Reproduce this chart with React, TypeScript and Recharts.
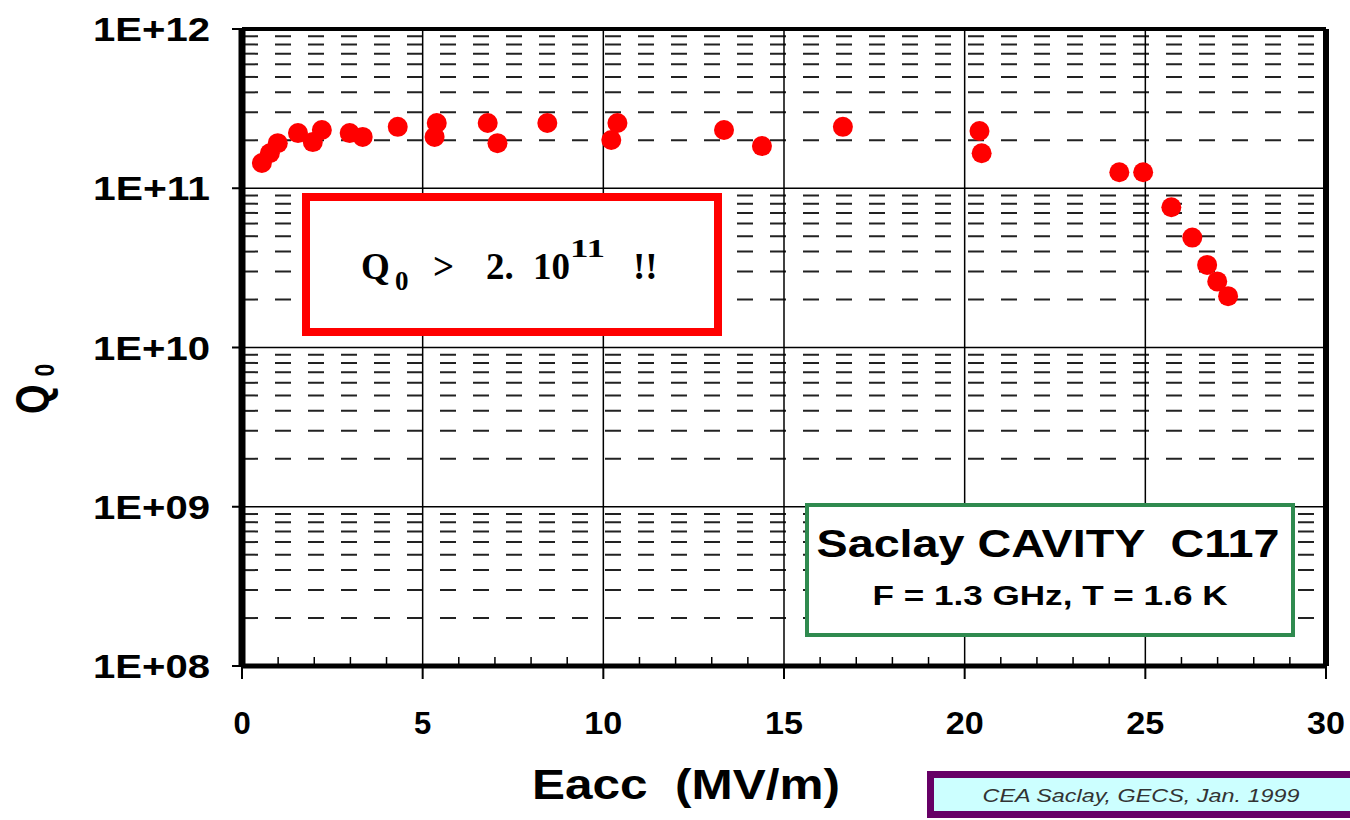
import React from 'react';
import { ScatterChart, Scatter, XAxis, YAxis, CartesianGrid, ReferenceLine } from 'recharts';

// Data
const eacc = [0.55, 0.77, 0.99, 1.55, 1.96, 2.21, 2.98, 3.34, 4.31, 5.33, 5.39, 6.8, 7.07, 8.45, 10.22, 10.39, 13.34, 14.39, 16.63, 20.41, 20.47, 24.28, 24.94, 25.72, 26.3, 26.71, 26.99, 27.29];
const q0 = [1.44e11, 1.66e11, 1.92e11, 2.22e11, 1.95e11, 2.32e11, 2.22e11, 2.1e11, 2.43e11, 2.1e11, 2.57e11, 2.57e11, 1.92e11, 2.57e11, 2.01e11, 2.57e11, 2.32e11, 1.84e11, 2.43e11, 2.29e11, 1.66e11, 1.26e11, 1.26e11, 7.6e10, 4.9e10, 3.3e10, 2.6e10, 2.1e10];

const xTicks = Array.from({ length: 31 }, (_, i) => i);
const xMajor = [5, 10, 15, 20, 25];
const yDecades = [1e8, 1e9, 1e10, 1e11, 1e12];
const yTickLabels = ['1E+08', '1E+09', '1E+10', '1E+11', '1E+12'];
const minorMultipliers = [2, 3, 4, 5, 6, 7, 8, 9];
const yMinor: number[] = [];
[1e8, 1e9, 1e10, 1e11].forEach((d) => minorMultipliers.forEach((m) => yMinor.push(m * d)));

const points = eacc.map((x, i) => ({ x, y: q0[i] }));

const SANS = '"Liberation Sans", Arial, sans-serif';
const SERIF = '"Liberation Serif", "Times New Roman", serif';

const XTick = (props: any) => {
  const { x, y, payload } = props;
  const v = payload.value;
  if (v % 5 === 0) {
    const label = String(v);
    return (
      <g>
        <line x1={x} y1={y} x2={x} y2={y + 13} stroke="#000" strokeWidth={2} />
        <text x={x} y={y + 68} textAnchor="middle" fontFamily={SANS} fontWeight="bold" fontSize={31} fill="#000"
          {...(label.length > 1 ? { textLength: 38, lengthAdjust: 'spacingAndGlyphs' } : {})}>
          {label}
        </text>
      </g>
    );
  }
  return <line x1={x} y1={y - 9} x2={x} y2={y} stroke="#000" strokeWidth={1.5} />;
};

const YTick = (props: any) => {
  const { x, y, payload } = props;
  const idx = yDecades.indexOf(payload.value);
  const label = idx >= 0 ? yTickLabels[idx] : '';
  return (
    <g>
      <line x1={x - 10} y1={y} x2={x} y2={y} stroke="#000" strokeWidth={2} />
      <text x={x - 32} y={y} dy="0.36em" textAnchor="end" fontFamily={SANS} fontWeight="bold" fontSize={34} fill="#000"
        textLength={117} lengthAdjust="spacingAndGlyphs">
        {label}
      </text>
    </g>
  );
};

const Dot = (props: any) => {
  const { cx, cy } = props;
  if (cx == null || cy == null) return null;
  return <circle cx={cx} cy={cy} r={10} fill="#ff0000" />;
};

export default function App() {
  return (
    <div style={{ position: 'absolute', left: 0, top: 0, width: 1350, height: 820, background: '#fff', overflow: 'hidden' }}>
      <ScatterChart width={1350} height={820} margin={{ top: 29, right: 24, bottom: 94, left: 0 }}>
        <CartesianGrid horizontalValues={yMinor} vertical={false} stroke="#222" strokeWidth={2} strokeDasharray="16 17" />
        <CartesianGrid horizontalValues={yDecades} verticalValues={xMajor} stroke="#000" strokeWidth={1.5} />
        <XAxis type="number" dataKey="x" domain={[0, 30]} ticks={xTicks} interval={0} allowDataOverflow
          tick={<XTick />} tickLine={false} tickSize={0} tickMargin={0} height={60}
          axisLine={{ stroke: '#000', strokeWidth: 5 }} />
        <YAxis type="number" dataKey="y" scale="log" domain={[1e8, 1e12]} ticks={yDecades} interval={0} allowDataOverflow
          tick={<YTick />} tickLine={false} tickSize={0} tickMargin={0} width={242}
          axisLine={{ stroke: '#000', strokeWidth: 7 }} />
        <ReferenceLine y={1e12} stroke="#000" strokeWidth={4} />
        <ReferenceLine x={30} stroke="#000" strokeWidth={6} />
        <Scatter data={points} shape={<Dot />} fill="#ff0000" isAnimationActive={false} />
      </ScatterChart>
      <svg width={1350} height={820} style={{ position: 'absolute', left: 0, top: 0, pointerEvents: 'none' }}>
        {/* Y axis title */}
        <g transform="translate(48,414) scale(1.2,1) rotate(-90)">
          <text x={0} y={0} fontFamily={SANS} fontWeight="bold" fontSize={38} fill="#000">
            Q<tspan dx={8} dy={5} fontSize={23}>0</tspan>
          </text>
        </g>
        {/* X axis title */}
        <text x={686} y={799} textAnchor="middle" fontFamily={SANS} fontWeight="bold" fontSize={42} fill="#000"
          textLength={308} lengthAdjust="spacingAndGlyphs" style={{ whiteSpace: 'pre' }}>
          {'Eacc  (MV/m)'}
        </text>
        {/* red annotation */}
        <rect x={306} y={197} width={412} height={135} fill="#fff" stroke="#ff0000" strokeWidth={8} />
        <g fontFamily={SERIF} fontWeight="bold" fill="#000">
          <text x={361} y={279} fontSize={37}>Q</text>
          <text x={395} y={290} fontSize={27}>0</text>
          <text x={433} y={279} fontSize={37}>&gt;</text>
          <text x={486} y={279} fontSize={37}>2.</text>
          <text x={533} y={279} fontSize={37}>10</text>
          <text x={570} y={257} fontSize={25} textLength={35} lengthAdjust="spacingAndGlyphs">11</text>
          <text x={633} y={279} fontSize={37}>!!</text>
        </g>
        {/* green annotation */}
        <rect x={807} y={505} width={486} height={130} fill="#fff" stroke="#2f8a4f" strokeWidth={4} />
        <text x={1048} y={557} textAnchor="middle" fontFamily={SANS} fontWeight="bold" fontSize={38} fill="#000"
          textLength={463} lengthAdjust="spacingAndGlyphs" style={{ whiteSpace: 'pre' }}>
          {'Saclay CAVITY  C117'}
        </text>
        <text x={1050} y={605} textAnchor="middle" fontFamily={SANS} fontWeight="bold" fontSize={28} fill="#000"
          textLength={355} lengthAdjust="spacingAndGlyphs">
          F = 1.3 GHz, T = 1.6 K
        </text>
        {/* purple credit box */}
        <rect x={930.5} y={774.5} width={460} height={40} fill="#ccffff" stroke="#660066" strokeWidth={7} />
        <text x={1141} y={802} textAnchor="middle" fontFamily={SANS} fontStyle="italic" fontSize={19} fill="#333"
          textLength={317} lengthAdjust="spacingAndGlyphs">
          CEA Saclay, GECS, Jan. 1999
        </text>
      </svg>
    </div>
  );
}
